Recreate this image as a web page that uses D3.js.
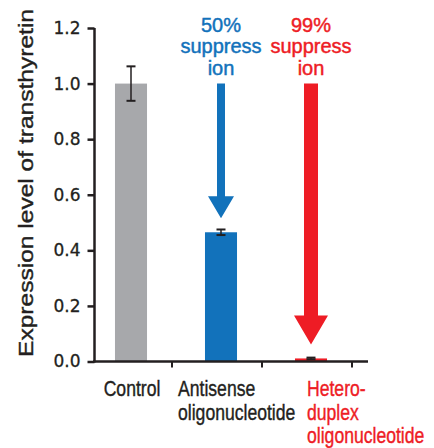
<!DOCTYPE html>
<html>
<head>
<meta charset="utf-8">
<script src="https://cdn.jsdelivr.net/npm/d3@7"></script>
<style>
  body { margin: 0; background: #fff; }
  svg { display: block; }
</style>
</head>
<body>
<svg></svg>
<script>

// data
var categories = ['Control', 'Antisense', 'Heteroduplex']
var values = [1.0, 0.465, 0.011]
var errors = [0.062, 0.01, 0.003]
var labelLines = [['Control'], ['Antisense', 'oligonucleotide'], ['Hetero-', 'duplex', 'oligonucleotide']]
var yTicks = [0, 0.2, 0.4, 0.6, 0.8, 1.0, 1.2]
var noteLines = [null, ['50%', 'suppress', 'ion'], ['99%', 'suppress', 'ion']]

// styles
var barColors = ['#a7a8ab', '#1272bb', '#ee1c25']
var labelColors = ['#231f20', '#231f20', '#ee1c25']
var labelAnchor = ['middle', 'start', 'start']
var labelDx = [1, -43, -4]
var shaftW = [0, 8, 14]
var headW = [0, 26, 34]
var headH = [0, 22, 29]

var width = 434,
    height = 448
var ink = '#231f20'
var font = 'Liberation Sans, Arial, sans-serif'

var svg = d3.select('svg')
            .attr('width', width)
            .attr('height', height)

var x = d3.scaleBand()
    .domain(categories)
    .range([86, 356])
    .paddingInner(0.644)
    .paddingOuter(0.322)

var y = d3.scaleLinear()
    .domain([0, 1.2])
    .range([361.5, 28])

var cx = (d) => x(d) + x.bandwidth() / 2

// bars
svg.selectAll('rect.bar')
  .data(categories)
  .enter()
  .append('rect')
    .attr('class', 'bar')
    .attr('x', (d) => x(d))
    .attr('width', x.bandwidth())
    .attr('y', (d, i) => y(values[i]))
    .attr('height', (d, i) => y(0) - y(values[i]))
    .attr('fill', (d, i) => barColors[i])

// error bars
var err = svg.selectAll('g.err')
  .data(categories)
  .enter()
  .append('g')
    .attr('stroke', ink)
    .attr('stroke-width', 2)

err.append('line')
  .attr('x1', cx).attr('x2', cx)
  .attr('y1', (d, i) => y(values[i] + errors[i]))
  .attr('y2', (d, i) => y(values[i] - errors[i]))
  .attr('stroke-width', 1.5)
err.append('line')
  .attr('x1', (d) => cx(d) - 4.5).attr('x2', (d) => cx(d) + 4.5)
  .attr('y1', (d, i) => y(values[i] + errors[i]))
  .attr('y2', (d, i) => y(values[i] + errors[i]))
err.append('line')
  .attr('x1', (d) => cx(d) - 4.5).attr('x2', (d) => cx(d) + 4.5)
  .attr('y1', (d, i) => y(values[i] - errors[i]))
  .attr('y2', (d, i) => y(values[i] - errors[i]))

// arrows from the control level down to each treated bar
categories.forEach(function(d, i) {
  if (!noteLines[i]) return
  var c = cx(d)
  var top = y(values[0])
  var tip = y(values[i]) - 14
  var neck = tip - headH[i]
  var s = shaftW[i] / 2, h = headW[i] / 2
  var path = d3.path()
  path.moveTo(c - s, top)
  path.lineTo(c + s, top)
  path.lineTo(c + s, neck)
  path.lineTo(c + h, neck)
  path.lineTo(c, tip)
  path.lineTo(c - h, neck)
  path.lineTo(c - s, neck)
  path.closePath()
  svg.append('path')
    .attr('d', path.toString())
    .attr('fill', barColors[i])

  svg.selectAll(null)
    .data(noteLines[i])
    .enter()
    .append('text')
      .attr('x', c)
      .attr('y', (t, j) => 32 + j * 20.5 + (j > 1 ? 1.5 : 0))
      .attr('text-anchor', 'middle')
      .attr('fill', barColors[i])
      .attr('stroke', barColors[i])
      .attr('stroke-width', 0.45)
      .style('font-family', font)
      .style('font-size', '20px')
      .text((t) => t)
})

// axes
var yAxis = svg.append('g')
  .attr('transform', 'translate(94.5,0)')
  .call(d3.axisLeft(y).tickValues(yTicks).tickFormat(d3.format('.1f')).tickSize(7).tickPadding(7))
yAxis.select('.domain').attr('d', `M0,${y(1.2)}V${y(0) + 1}`)

var xAxis = svg.append('g')
  .attr('transform', `translate(0,${y(0)})`)
xAxis.append('line')
  .attr('x1', 93).attr('x2', 368)
  .attr('stroke', ink).attr('stroke-width', 2.5)
xAxis.selectAll('line.tick')
  .data(categories)
  .enter()
  .append('line')
    .attr('x1', (d) => cx(d) + 41).attr('x2', (d) => cx(d) + 41)
    .attr('y1', 0).attr('y2', 6)
    .attr('stroke', ink).attr('stroke-width', 2)

svg.selectAll('.domain, .tick line')
  .attr('stroke', ink)
  .attr('stroke-width', 2.5)
yAxis.selectAll('.tick text')
  .attr('fill', ink)
  .attr('stroke', ink)
  .attr('stroke-width', 0.3)
  .style('font-family', 'DejaVu Sans, sans-serif')
  .style('font-size', '17px')

// category labels, condensed horizontally
categories.forEach(function(d, i) {
  svg.selectAll(null)
    .data(labelLines[i])
    .enter()
    .append('text')
      .attr('transform', (t, j) => `translate(${cx(d) + labelDx[i]},${396 + j * 23.5}) scale(0.8,1)`)
      .attr('text-anchor', labelAnchor[i])
      .attr('fill', labelColors[i])
      .attr('stroke', labelColors[i])
      .attr('stroke-width', 0.4)
      .style('font-family', font)
      .style('font-size', '22px')
      .text((t) => t)
})

// y title
var title = svg.append('text')
  .attr('transform', 'translate(33,183) rotate(-90)')
  .attr('text-anchor', 'middle')
  .attr('fill', ink)
  .attr('stroke', ink)
  .attr('stroke-width', 0.4)
  .style('font-family', font)
  .style('font-size', '21px')
  .text('Expression level of transthyretin')
title.attr('textLength', 348).attr('lengthAdjust', 'spacingAndGlyphs')

</script>
</body>
</html>
